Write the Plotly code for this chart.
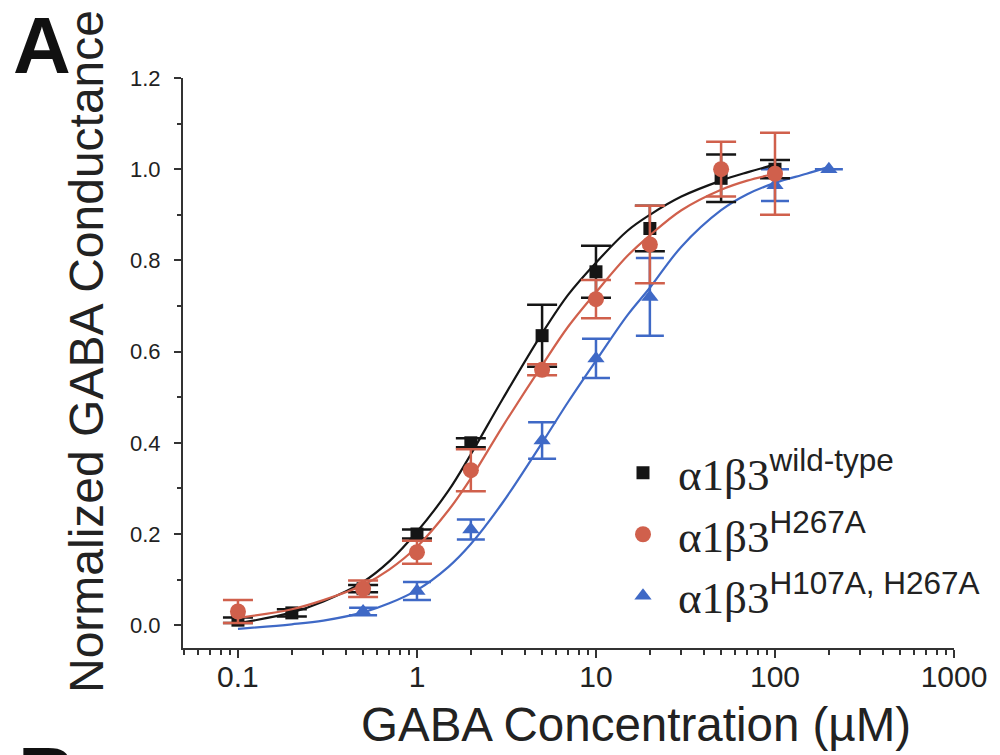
import plotly.graph_objects as go

# ---- data ----
conc_wt = [0.1, 0.2, 0.5, 1, 2, 5, 10, 20, 50, 100]
resp_wt = [0.011, 0.027, 0.08, 0.20, 0.40, 0.635, 0.775, 0.87, 0.98, 1.00]
err_wt = [0.006, 0.008, 0.008, 0.01, 0.01, 0.068, 0.057, 0.05, 0.052, 0.02]

conc_h267 = [0.1, 0.5, 1, 2, 5, 10, 20, 50, 100]
resp_h267 = [0.03, 0.08, 0.16, 0.34, 0.56, 0.715, 0.835, 1.0, 0.99]
err_h267 = [0.025, 0.018, 0.025, 0.046, 0.012, 0.042, 0.085, 0.06, 0.09]

conc_dm = [0.5, 1, 2, 5, 10, 20, 100, 200]
resp_dm = [0.03, 0.075, 0.21, 0.405, 0.585, 0.72, 0.965, 1.0]
err_dm = [0.008, 0.02, 0.022, 0.04, 0.043, 0.085, 0.035, 0.0]

fit_x = [0.1, 0.2, 0.3, 0.5, 0.7, 1, 1.5, 2, 3, 5, 7, 10, 15, 20, 30, 50, 70, 100]
fit_wt = [0.004, 0.028, 0.052, 0.095, 0.14, 0.205, 0.295, 0.375, 0.495, 0.64,
          0.725, 0.795, 0.865, 0.9, 0.94, 0.975, 0.993, 1.01]
fit_h267 = [0.016, 0.035, 0.055, 0.088, 0.122, 0.172, 0.252, 0.322, 0.435, 0.57,
            0.655, 0.73, 0.81, 0.855, 0.91, 0.955, 0.975, 0.99]
fit_dm_x = [0.1, 0.2, 0.3, 0.5, 0.7, 1, 1.5, 2, 3, 5, 7, 10, 15, 20, 30, 50, 70, 100, 150, 200]
fit_dm = [-0.008, 0.002, 0.01, 0.028, 0.048, 0.077, 0.128, 0.178, 0.268, 0.40,
          0.49, 0.58, 0.68, 0.74, 0.83, 0.91, 0.945, 0.97, 0.99, 1.005]

x_tickvals = [0.1, 1, 10, 100, 1000]
x_ticktext = ["0.1", "1", "10", "100", "1000"]
y_tickvals = [0.0, 0.2, 0.4, 0.6, 0.8, 1.0, 1.2]
y_ticktext = ["0.0", "0.2", "0.4", "0.6", "0.8", "1.0", "1.2"]

SERIF = "Liberation Serif, Times New Roman, Times, DejaVu Serif, serif"
SANS = "Liberation Sans, Arial, Helvetica, sans-serif"
sup_labels = ["wild-type", "H267A", "H107A, H267A"]
names = ["\u03b11\u03b23<span style=\"font-family:" + SANS + "\"><sup>" + s + "</sup></span>" for s in sup_labels]

BLACK = "#151515"
RED = "#d0604c"
BLUE = "#3f69c6"

fig = go.Figure()

# blue
fig.add_trace(go.Scatter(x=fit_dm_x, y=fit_dm, mode="lines", line=dict(color=BLUE, width=2.2, shape="spline"),
                         showlegend=False, hoverinfo="skip"))
fig.add_trace(go.Scatter(x=conc_dm, y=resp_dm, mode="markers", name=names[2], legendrank=3, legendgroup="c",
                         marker=dict(symbol="triangle-up", size=15, color=BLUE),
                         error_y=dict(type="data", array=err_dm, color=BLUE, thickness=2.5, width=14)))
# black
fig.add_trace(go.Scatter(x=fit_x, y=fit_wt, mode="lines", line=dict(color=BLACK, width=2.2, shape="spline"),
                         showlegend=False, hoverinfo="skip"))
fig.add_trace(go.Scatter(x=conc_wt, y=resp_wt, mode="markers", name=names[0], legendrank=1, legendgroup="a",
                         marker=dict(symbol="square", size=13, color=BLACK),
                         error_y=dict(type="data", array=err_wt, color=BLACK, thickness=2.5, width=15)))
# red
fig.add_trace(go.Scatter(x=fit_x, y=fit_h267, mode="lines", line=dict(color=RED, width=2.2, shape="spline"),
                         showlegend=False, hoverinfo="skip"))
fig.add_trace(go.Scatter(x=conc_h267, y=resp_h267, mode="markers", name=names[1], legendrank=2, legendgroup="b",
                         marker=dict(symbol="circle", size=16, color=RED),
                         error_y=dict(type="data", array=err_h267, color=RED, thickness=2.5, width=15)))

L, R, T, B = 175, 54, 70, 115
W, H = 1000, 755
pw, ph = W - L - R, H - T - B


def px_x(p):
    return (p - L) / pw


def px_y(p):
    return (H - B - p) / ph


fig.update_layout(
    width=W, height=H,
    margin=dict(l=L, r=R, t=T, b=B, pad=0),
    paper_bgcolor="white", plot_bgcolor="white",
    font=dict(family=SANS, color="#222"),
    showlegend=True,
    legend=dict(x=px_x(600), y=px_y(429), xanchor="left", yanchor="top",
                font=dict(family=SERIF, size=45, color="#222"),
                bgcolor="rgba(0,0,0,0)", tracegroupgap=6, itemwidth=60,
                traceorder="normal"),
    xaxis=dict(type="log", range=[-1.307, 3.0], showline=True, linecolor="#333", linewidth=2,
               showgrid=False, zeroline=False, ticks="outside", ticklen=8, tickwidth=2, tickcolor="#333",
               tickvals=x_tickvals, ticktext=x_ticktext, tickfont=dict(size=30, color="#222"),
               ticklabelstandoff=-7,
               minor=dict(ticks="outside", ticklen=5, tickwidth=1.5, tickcolor="#333", dtick="D1", showgrid=False)),
    yaxis=dict(range=[-0.05, 1.2], showline=True, linecolor="#333", linewidth=2,
               showgrid=False, zeroline=False, ticks="outside", ticklen=7, tickwidth=2, tickcolor="#333",
               tickvals=y_tickvals, ticktext=y_ticktext, tickfont=dict(size=22, color="#222"),
               ticklabelstandoff=9,
               minor=dict(ticks="outside", ticklen=4, tickwidth=1.5, tickcolor="#333", dtick=0.1, showgrid=False)),
    annotations=[
        dict(text="<b>A</b>", xref="paper", yref="paper", x=px_x(3), y=px_y(37), xanchor="left", yanchor="middle",
             showarrow=False, font=dict(size=80, family=SANS, color="#111")),
        dict(text="<b>B</b>", xref="paper", yref="paper", x=px_x(8), y=px_y(767), xanchor="left", yanchor="middle",
             showarrow=False, font=dict(size=80, family=SANS, color="#111")),
        dict(text="Normalized GABA Conductance", xref="paper", yref="paper", x=px_x(78), y=px_y(344),
             xanchor="center", yanchor="middle", textangle=-90, showarrow=False,
             font=dict(size=48, family=SANS, color="#222")),
        dict(text="GABA Concentration (\u00b5M)", xref="paper", yref="paper", x=px_x(628), y=px_y(716),
             xanchor="center", yanchor="middle", showarrow=False,
             font=dict(size=47.5, family=SANS, color="#222")),
    ],
)

fig.write_html("out.html")
